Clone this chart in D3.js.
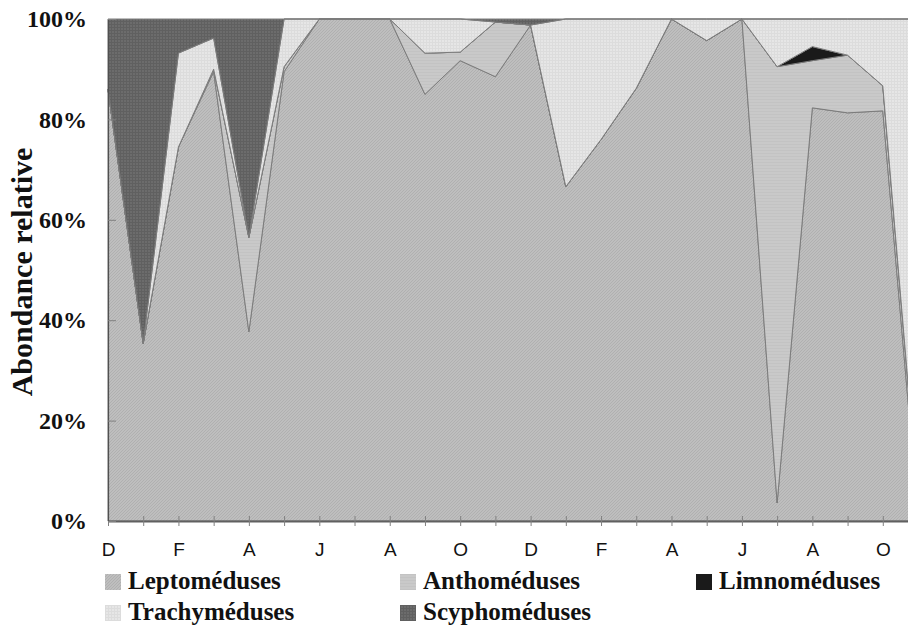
<!DOCTYPE html>
<html>
<head>
<meta charset="utf-8">
<script src="https://cdn.jsdelivr.net/npm/d3@7"></script>
<style>
  body { margin: 0; background: #fff; }
  svg { display: block; }
</style>
</head>
<body>
<script>
var w = 908; //width of the SVG canvas
var h = 626; //height of the SVG canvas

// months, one sample per month (D .. N), ticks labelled every second month
var months = ["D","J","F","M","A","M","J","J","A","S","O","N",
              "D","J","F","M","A","M","J","J","A","S","O","N"];
var yTicks = [0, 20, 40, 60, 80, 100];

// relative abundance (%) per group
var lepto  = [86, 35.4, 74.5, 89.5, 37.7, 89.5, 100, 100, 100, 85, 91.7, 88.5,
              98.8, 66.6, 76, 86.2, 100, 95.7, 100, 3.6, 82.3, 81.3, 81.7, 1];
var antho  = [0, 0, 0, 0.5, 18.8, 1, 0, 0, 0, 8.2, 1.7, 10.9,
              0, 0, 0, 0, 0, 0, 0, 86.9, 9.4, 11.5, 5, 3];
var limno  = [0, 0, 0, 0, 0, 0, 0, 0, 0, 0, 0, 0,
              0, 0, 0, 0, 0, 0, 0, 0, 2.8, 0, 0, 0];
var trachy = [0, 0, 18.7, 6.2, 0, 9.5, 0, 0, 0, 6.8, 6.6, 0,
              0, 33.4, 24, 13.8, 0, 4.3, 0, 9.5, 5.5, 7.2, 13.3, 96];
var scypho = [14, 64.6, 6.8, 3.8, 43.5, 0, 0, 0, 0, 0, 0, 0.6,
              1.2, 0, 0, 0, 0, 0, 0, 0, 0, 0, 0, 0];

var keys = ["lepto", "antho", "limno", "trachy", "scypho"];
var names = {lepto: "Leptoméduses", antho: "Anthoméduses", limno: "Limnoméduses",
             trachy: "Trachyméduses", scypho: "Scyphoméduses"};

var table = months.map(function(m, i) {
  return {i: i, lepto: lepto[i], antho: antho[i], limno: limno[i], trachy: trachy[i], scypho: scypho[i]};
});

var x = d3.scaleLinear().domain([0, 23]).range([108, 918]);
var y = d3.scaleLinear().domain([0, 100]).range([521, 19]);

var svg = d3.select("body").append("svg")
  .attr("width", w)
  .attr("height", h);

// textures
var defs = svg.append("defs");
function pat(id, bg, draw) {
  var p = defs.append("pattern").attr("id", id)
    .attr("patternUnits", "userSpaceOnUse").attr("width", 3).attr("height", 3);
  p.append("rect").attr("width", 3).attr("height", 3).attr("fill", bg);
  draw(p);
}
pat("p-lepto", "#bebebe", function(p) {
  p.append("path").attr("d", "M0,3L3,0M-1,1L1,-1M2,4L4,2")
    .attr("stroke", "#acacac").attr("stroke-width", 0.8);
});
pat("p-antho", "#c9c9c9", function(p) {
  p.append("path").attr("d", "M0,0.5H3").attr("stroke", "#c3c3c3").attr("stroke-width", 1);
});
pat("p-trachy", "#e6e6e6", function(p) {
  p.append("path").attr("d", "M0,0.5H3M0.5,0V3").attr("stroke", "#dcdcdc").attr("stroke-width", 1);
});
pat("p-scypho", "#6c6c6c", function(p) {
  p.append("path").attr("d", "M0,0.5H3M0.5,0V3").attr("stroke", "#606060").attr("stroke-width", 1);
});
pat("p-limno", "#1a1a1a", function(p) {});

var stack = d3.stack().keys(keys);
var series = stack(table);

var area = d3.area()
  .x(function(d) { return x(d.data.i); })
  .y0(function(d) { return y(d[0]); })
  .y1(function(d) { return y(d[1]); });

svg.append("g").selectAll("path")
  .data(series)
  .enter()
  .append("path")
  .attr("d", area)
  .attr("fill", function(d) { return "url(#p-" + d.key + ")"; })
  .attr("stroke", "#7c7c7c")
  .attr("stroke-width", 1)
  .attr("stroke-linejoin", "round");

// x axis, tick every month, label every second month
var xAxis = d3.axisBottom(x)
  .tickValues(d3.range(24))
  .tickSizeInner(5)
  .tickSizeOuter(0)
  .tickPadding(17)
  .tickFormat(function(d) { return d % 2 ? "" : months[d]; });

var gx = svg.append("g")
  .attr("transform", "translate(0," + 521 + ")")
  .call(xAxis);
gx.select(".domain").attr("stroke", "#606060").attr("stroke-width", 2);
gx.selectAll(".tick line").attr("y1", -5).attr("stroke", "#808080");
gx.selectAll(".tick text")
  .attr("font-family", "Liberation Sans, Arial, sans-serif")
  .attr("font-size", 19)
  .attr("fill", "#111");

// y axis
var yAxis = d3.axisLeft(y)
  .tickValues(yTicks)
  .tickSizeInner(8)
  .tickSizeOuter(0)
  .tickPadding(13)
  .tickFormat(function(d) { return d + "%"; });

var gy = svg.append("g")
  .attr("transform", "translate(108,0)")
  .call(yAxis);
gy.select(".domain").attr("stroke", "#505050").attr("stroke-width", 1.2);
gy.selectAll(".tick line").attr("x2", 8).attr("stroke", "#808080");
gy.selectAll(".tick text")
  .attr("font-family", "Liberation Serif, Times New Roman, serif")
  .attr("font-weight", "bold")
  .attr("font-size", 24)
  .attr("fill", "#111");

// y-axis label
svg.append("text")
  .attr("text-anchor", "middle")
  .attr("transform", "rotate(-90)")
  .attr("x", -272)
  .attr("y", 32)
  .attr("font-family", "Liberation Serif, Times New Roman, serif")
  .attr("font-weight", "bold")
  .attr("font-size", 30)
  .attr("fill", "#111")
  .text("Abondance relative");

// legend
var legendItems = [
  {key: "lepto",  x: 105, y: 574},
  {key: "antho",  x: 400, y: 574},
  {key: "limno",  x: 696, y: 574},
  {key: "trachy", x: 105, y: 605},
  {key: "scypho", x: 400, y: 605}
];
var lg = svg.append("g").selectAll("g")
  .data(legendItems)
  .enter()
  .append("g")
  .attr("transform", function(d) { return "translate(" + d.x + "," + d.y + ")"; });
lg.append("rect")
  .attr("width", 16).attr("height", 16)
  .attr("fill", function(d) { return "url(#p-" + d.key + ")"; });
lg.append("text")
  .attr("x", 23)
  .attr("y", 15)
  .attr("font-family", "Liberation Serif, Times New Roman, serif")
  .attr("font-weight", "bold")
  .attr("font-size", 25)
  .attr("fill", "#111")
  .text(function(d) { return names[d.key]; });
</script>
</body>
</html>
